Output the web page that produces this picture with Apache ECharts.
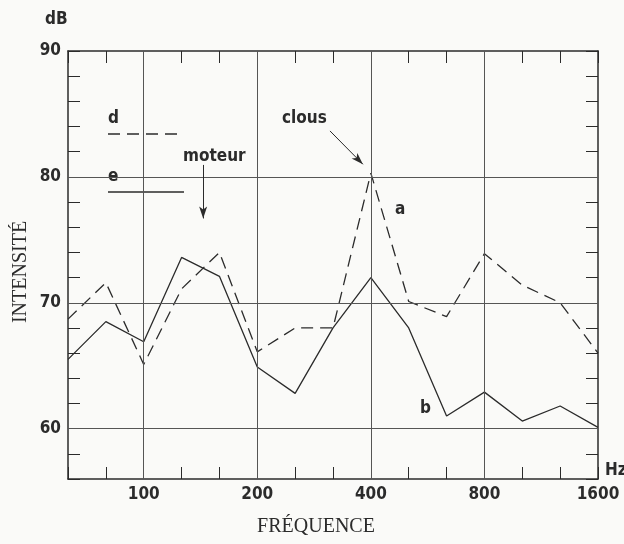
<!DOCTYPE html>
<html><head><meta charset="utf-8">
<script src="https://cdn.jsdelivr.net/npm/echarts@6/dist/echarts.min.js"></script>
<style>html,body{margin:0;padding:0;background:#fafaf8;}#c{width:624px;height:544px;}</style>
</head><body><div id="c"></div>
<script>
const freqLabels = ['63','80','100','125','160','200','250','315','400','500','630','800','1000','1250','1600'];
const shownLabels = ['100','200','400','800','1600'];
const curveD = [68.7,71.6,65.1,71.1,74.0,66.1,68.0,68.0,80.3,70.1,68.9,73.9,71.4,70.0,66.0];
const curveE = [65.5,68.5,66.9,73.6,72.1,64.9,62.8,68.0,72.0,68.0,61.0,62.9,60.6,61.8,60.1];
const yLabels = [60,70,80,90];
const gridX = ['100','200','400','800'];
const gridY = [60,70,80];

const ink = '#2b2b2b';
const cond = '"DejaVu Sans","Liberation Sans",sans-serif';
const condFont = 'bold condensed 17px ' + cond;
const serif = '"Liberation Serif","DejaVu Serif",serif';

const chart = echarts.init(document.getElementById('c'), null, {renderer:'canvas'});
const xAxisBase = {
  type:'value', min:0, max:freqLabels.length-1, interval:1,
  axisLine:{show:true, onZero:false, lineStyle:{color:ink, width:1.5}},
  axisTick:{show:true, inside:true, length:12, lineStyle:{color:ink, width:1}},
  splitLine:{show:false}
};
const yAxisBase = {
  type:'value', min:56, max:90, interval:2,
  axisLine:{show:true, onZero:false, lineStyle:{color:ink, width:1.5}},
  axisTick:{show:true, inside:true, length:12, lineStyle:{color:ink, width:1}},
  splitLine:{show:false}
};
const idx = l => freqLabels.indexOf(l);

chart.setOption({
  backgroundColor:'#fafaf8',
  animation:false,
  grid:{left:68, right:26, top:51, bottom:65},
  xAxis:[
    Object.assign({}, xAxisBase, {position:'bottom',
      axisLabel:{show:true, margin:7, color:ink, fontFamily:cond, fontWeight:'bold condensed', fontSize:17,
        formatter:v => shownLabels.includes(freqLabels[v]) ? freqLabels[v] : ''}}),
    Object.assign({}, xAxisBase, {position:'top', axisLabel:{show:false}})
  ],
  yAxis:[
    Object.assign({}, yAxisBase, {position:'left',
      axisLabel:{show:true, margin:7, color:ink, fontFamily:cond, fontWeight:'bold condensed', fontSize:17,
        formatter:v => yLabels.includes(v) ? String(v) : ''}}),
    Object.assign({}, yAxisBase, {position:'right', axisLabel:{show:false}})
  ],
  series:[
    {name:'d', type:'line', data:curveD.map((v,i)=>[i,v]), symbol:'none',
      lineStyle:{color:ink, width:1.3, type:[12,7]},
      markLine:{silent:true, symbol:'none', label:{show:false},
        lineStyle:{color:'#555', width:1, type:'solid'},
        data:[...gridX.map(l=>({xAxis:idx(l)})), ...gridY.map(v=>({yAxis:v}))]}},
    {name:'e', type:'line', data:curveE.map((v,i)=>[i,v]), symbol:'none',
      lineStyle:{color:ink, width:1.3},
      markLine:{silent:true, symbol:['none','arrow'], symbolSize:[6,12], label:{show:false},
        lineStyle:{color:ink, width:1, type:'solid'},
        data:[
          [{coord:[3.57,80.95]},{coord:[3.57,76.7]}],
          [{coord:[6.92,83.65]},{coord:[7.79,81.0]}]
        ]}}
  ],
  graphic:[
    {type:'text', x:45, y:20, style:{text:'dB', font:condFont, fill:ink, verticalAlign:'middle'}},
    {type:'text', x:605, y:471, style:{text:'Hz', font:condFont, fill:ink, verticalAlign:'middle'}},
    {type:'text', x:21, y:272, rotation:Math.PI/2, style:{text:'INTENSITÉ', font:'20px '+serif, fill:ink, align:'center', verticalAlign:'middle'}},
    {type:'text', x:316, y:527, style:{text:'FRÉQUENCE', font:'20px '+serif, fill:ink, align:'center', verticalAlign:'middle'}},
    {type:'text', x:108, y:119, style:{text:'d', font:condFont, fill:ink, verticalAlign:'middle'}},
    {type:'line', shape:{x1:108, y1:134, x2:184, y2:134}, style:{stroke:ink, lineWidth:1.3, lineDash:[12,7]}},
    {type:'text', x:108, y:177, style:{text:'e', font:condFont, fill:ink, verticalAlign:'middle'}},
    {type:'line', shape:{x1:108, y1:192, x2:184, y2:192}, style:{stroke:ink, lineWidth:1.3}},
    {type:'text', x:183, y:157, style:{text:'moteur', font:condFont, fill:ink, verticalAlign:'middle'}},
    {type:'text', x:282, y:119, style:{text:'clous', font:condFont, fill:ink, verticalAlign:'middle'}},
    {type:'text', x:395, y:210, style:{text:'a', font:condFont, fill:ink, verticalAlign:'middle'}},
    {type:'text', x:420, y:409, style:{text:'b', font:condFont, fill:ink, verticalAlign:'middle'}}
  ]
});
</script></body></html>
